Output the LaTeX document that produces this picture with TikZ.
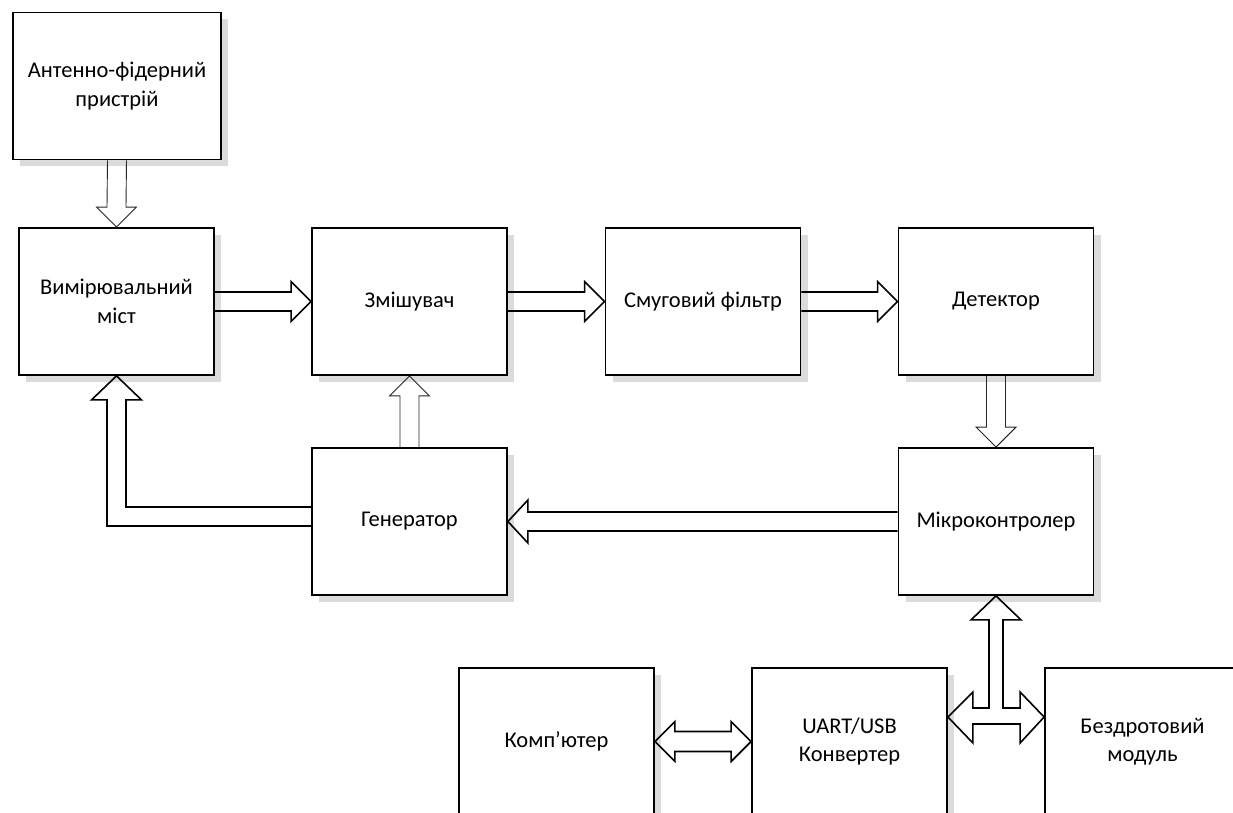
\documentclass[tikz,border=0pt]{standalone}
\usepackage{fontspec}
\setmainfont{Carlito}
\usetikzlibrary{calc,shadows}
\begin{document}
\begin{tikzpicture}[x=1pt,y=-1pt,
  blk/.style={draw=black, line width=1.8pt, fill=white, minimum width=195pt, minimum height=147pt,
    inner sep=0pt, align=center, font=\fontsize{22.5}{28.5}\selectfont,
    drop shadow={shadow xshift=7pt, shadow yshift=-7pt, fill=black!14, opacity=1}},
  thickarr/.style={draw=black, line width=1.6pt, line join=miter},
  thinarr/.style={draw=black!85, line width=0.9pt, line join=miter}]
\useasboundingbox (0,0) rectangle (1233,813);
\clip (0,0) rectangle (1233,813);

\node[blk, minimum width=208pt] (ant) at (117,86) {Антенно-фідерний\\пристрій};
\node[blk] (bridge) at (116.5,301.5) {Вимірювальний\\міст};
\node[blk] (mix) at (409.5,301.5) {Змішувач};
\node[blk] (filt) at (703,301.5) {Смуговий фільтр};
\node[blk] (det) at (996,301.5) {Детектор};
\node[blk] (gen) at (409.5,521.5) {Генератор};
\node[blk] (mcu) at (996,521.5) {Мікроконтролер};
\node[blk] (comp) at (556.5,741.5) {Комп’ютер};
\node[blk] (uart) at (849.5,741.5) {UART/USB\\Конвертер};
\node[blk] (wire) at (1142.5,741.5) {Бездротовий\\модуль};

% antenna -> bridge (thin, down)
\draw[thinarr] ($(ant.south)+(-9.5,0)$) -- ($(bridge.north)+(-9.5,-20)$) -- ($(bridge.north)+(-20,-20)$)
  -- (bridge.north) -- ($(bridge.north)+(20,-20)$) -- ($(bridge.north)+(9.5,-20)$) -- ($(ant.south)+(9.5,0)$);

% horizontal thick arrows
\draw[thickarr] ($(bridge.east)+(0,-9.5)$) -- ($(mix.west)+(-20,-9.5)$) -- ($(mix.west)+(-20,-20)$)
  -- (mix.west) -- ($(mix.west)+(-20,20)$) -- ($(mix.west)+(-20,9.5)$) -- ($(bridge.east)+(0,9.5)$);
\draw[thickarr] ($(mix.east)+(0,-9.5)$) -- ($(filt.west)+(-20,-9.5)$) -- ($(filt.west)+(-20,-20)$)
  -- (filt.west) -- ($(filt.west)+(-20,20)$) -- ($(filt.west)+(-20,9.5)$) -- ($(mix.east)+(0,9.5)$);
\draw[thickarr] ($(filt.east)+(0,-9.5)$) -- ($(det.west)+(-20,-9.5)$) -- ($(det.west)+(-20,-20)$)
  -- (det.west) -- ($(det.west)+(-20,20)$) -- ($(det.west)+(-20,9.5)$) -- ($(filt.east)+(0,9.5)$);

% detector -> mcu (thin, down)
\draw[thinarr] ($(det.south)+(-9.5,0)$) -- ($(mcu.north)+(-9.5,-20)$) -- ($(mcu.north)+(-20,-20)$)
  -- (mcu.north) -- ($(mcu.north)+(20,-20)$) -- ($(mcu.north)+(9.5,-20)$) -- ($(det.south)+(9.5,0)$);

% generator -> mixer (thin, up)
\draw[thinarr] ($(gen.north)+(-9.5,0)$) -- ($(mix.south)+(-9.5,20)$) -- ($(mix.south)+(-20,20)$)
  -- (mix.south) -- ($(mix.south)+(20,20)$) -- ($(mix.south)+(9.5,20)$) -- ($(gen.north)+(9.5,0)$);

% mcu -> generator (thick, left)
\draw[thickarr] ($(mcu.west)+(0,-9.5)$) -- ($(gen.east)+(20,-9.5)$) -- ($(gen.east)+(20,-21.5)$)
  -- (gen.east) -- ($(gen.east)+(20,21.5)$) -- ($(gen.east)+(20,9.5)$) -- ($(mcu.west)+(0,9.5)$);

% generator -> bridge (elbow)
\coordinate (gw) at ($(gen.west)+(0,-5)$);
\draw[thickarr] ($(gw)+(0,-9.5)$) -- ($(gw -| bridge.south)+(9.5,-9.5)$) -- ($(bridge.south)+(9.5,24)$)
  -- ($(bridge.south)+(25,24)$) -- (bridge.south) -- ($(bridge.south)+(-25,24)$) -- ($(bridge.south)+(-9.5,24)$)
  -- ($(gw -| bridge.south)+(-9.5,9.5)$) -- ($(gw)+(0,9.5)$);

% computer <-> uart
\draw[thickarr] (comp.east) -- ($(comp.east)+(20,-20)$) -- ($(comp.east)+(20,-10)$) -- ($(uart.west)+(-20,-10)$)
  -- ($(uart.west)+(-20,-20)$) -- (uart.west) -- ($(uart.west)+(-20,20)$) -- ($(uart.west)+(-20,10)$)
  -- ($(comp.east)+(20,10)$) -- ($(comp.east)+(20,20)$) -- cycle;

% uart <-> wireless, with branch up to mcu
\coordinate (ul) at ($(uart.east)+(0,-24.5)$);
\coordinate (wr) at ($(wire.west)+(0,-24.5)$);
\coordinate (jt) at (ul -| mcu.south);
\draw[thickarr] (ul) -- ($(ul)+(25,-25)$) -- ($(ul)+(25,-9)$) -- ($(jt)+(-7,-9)$) -- ($(mcu.south)+(-7,24)$)
  -- ($(mcu.south)+(-25,24)$) -- (mcu.south) -- ($(mcu.south)+(25,24)$) -- ($(mcu.south)+(7,24)$)
  -- ($(jt)+(7,-9)$) -- ($(wr)+(-24,-9)$) -- ($(wr)+(-24,-25)$) -- (wr) -- ($(wr)+(-24,26)$)
  -- ($(wr)+(-24,7)$) -- ($(ul)+(25,7)$) -- ($(ul)+(25,26)$) -- cycle;
\end{tikzpicture}
\end{document}
